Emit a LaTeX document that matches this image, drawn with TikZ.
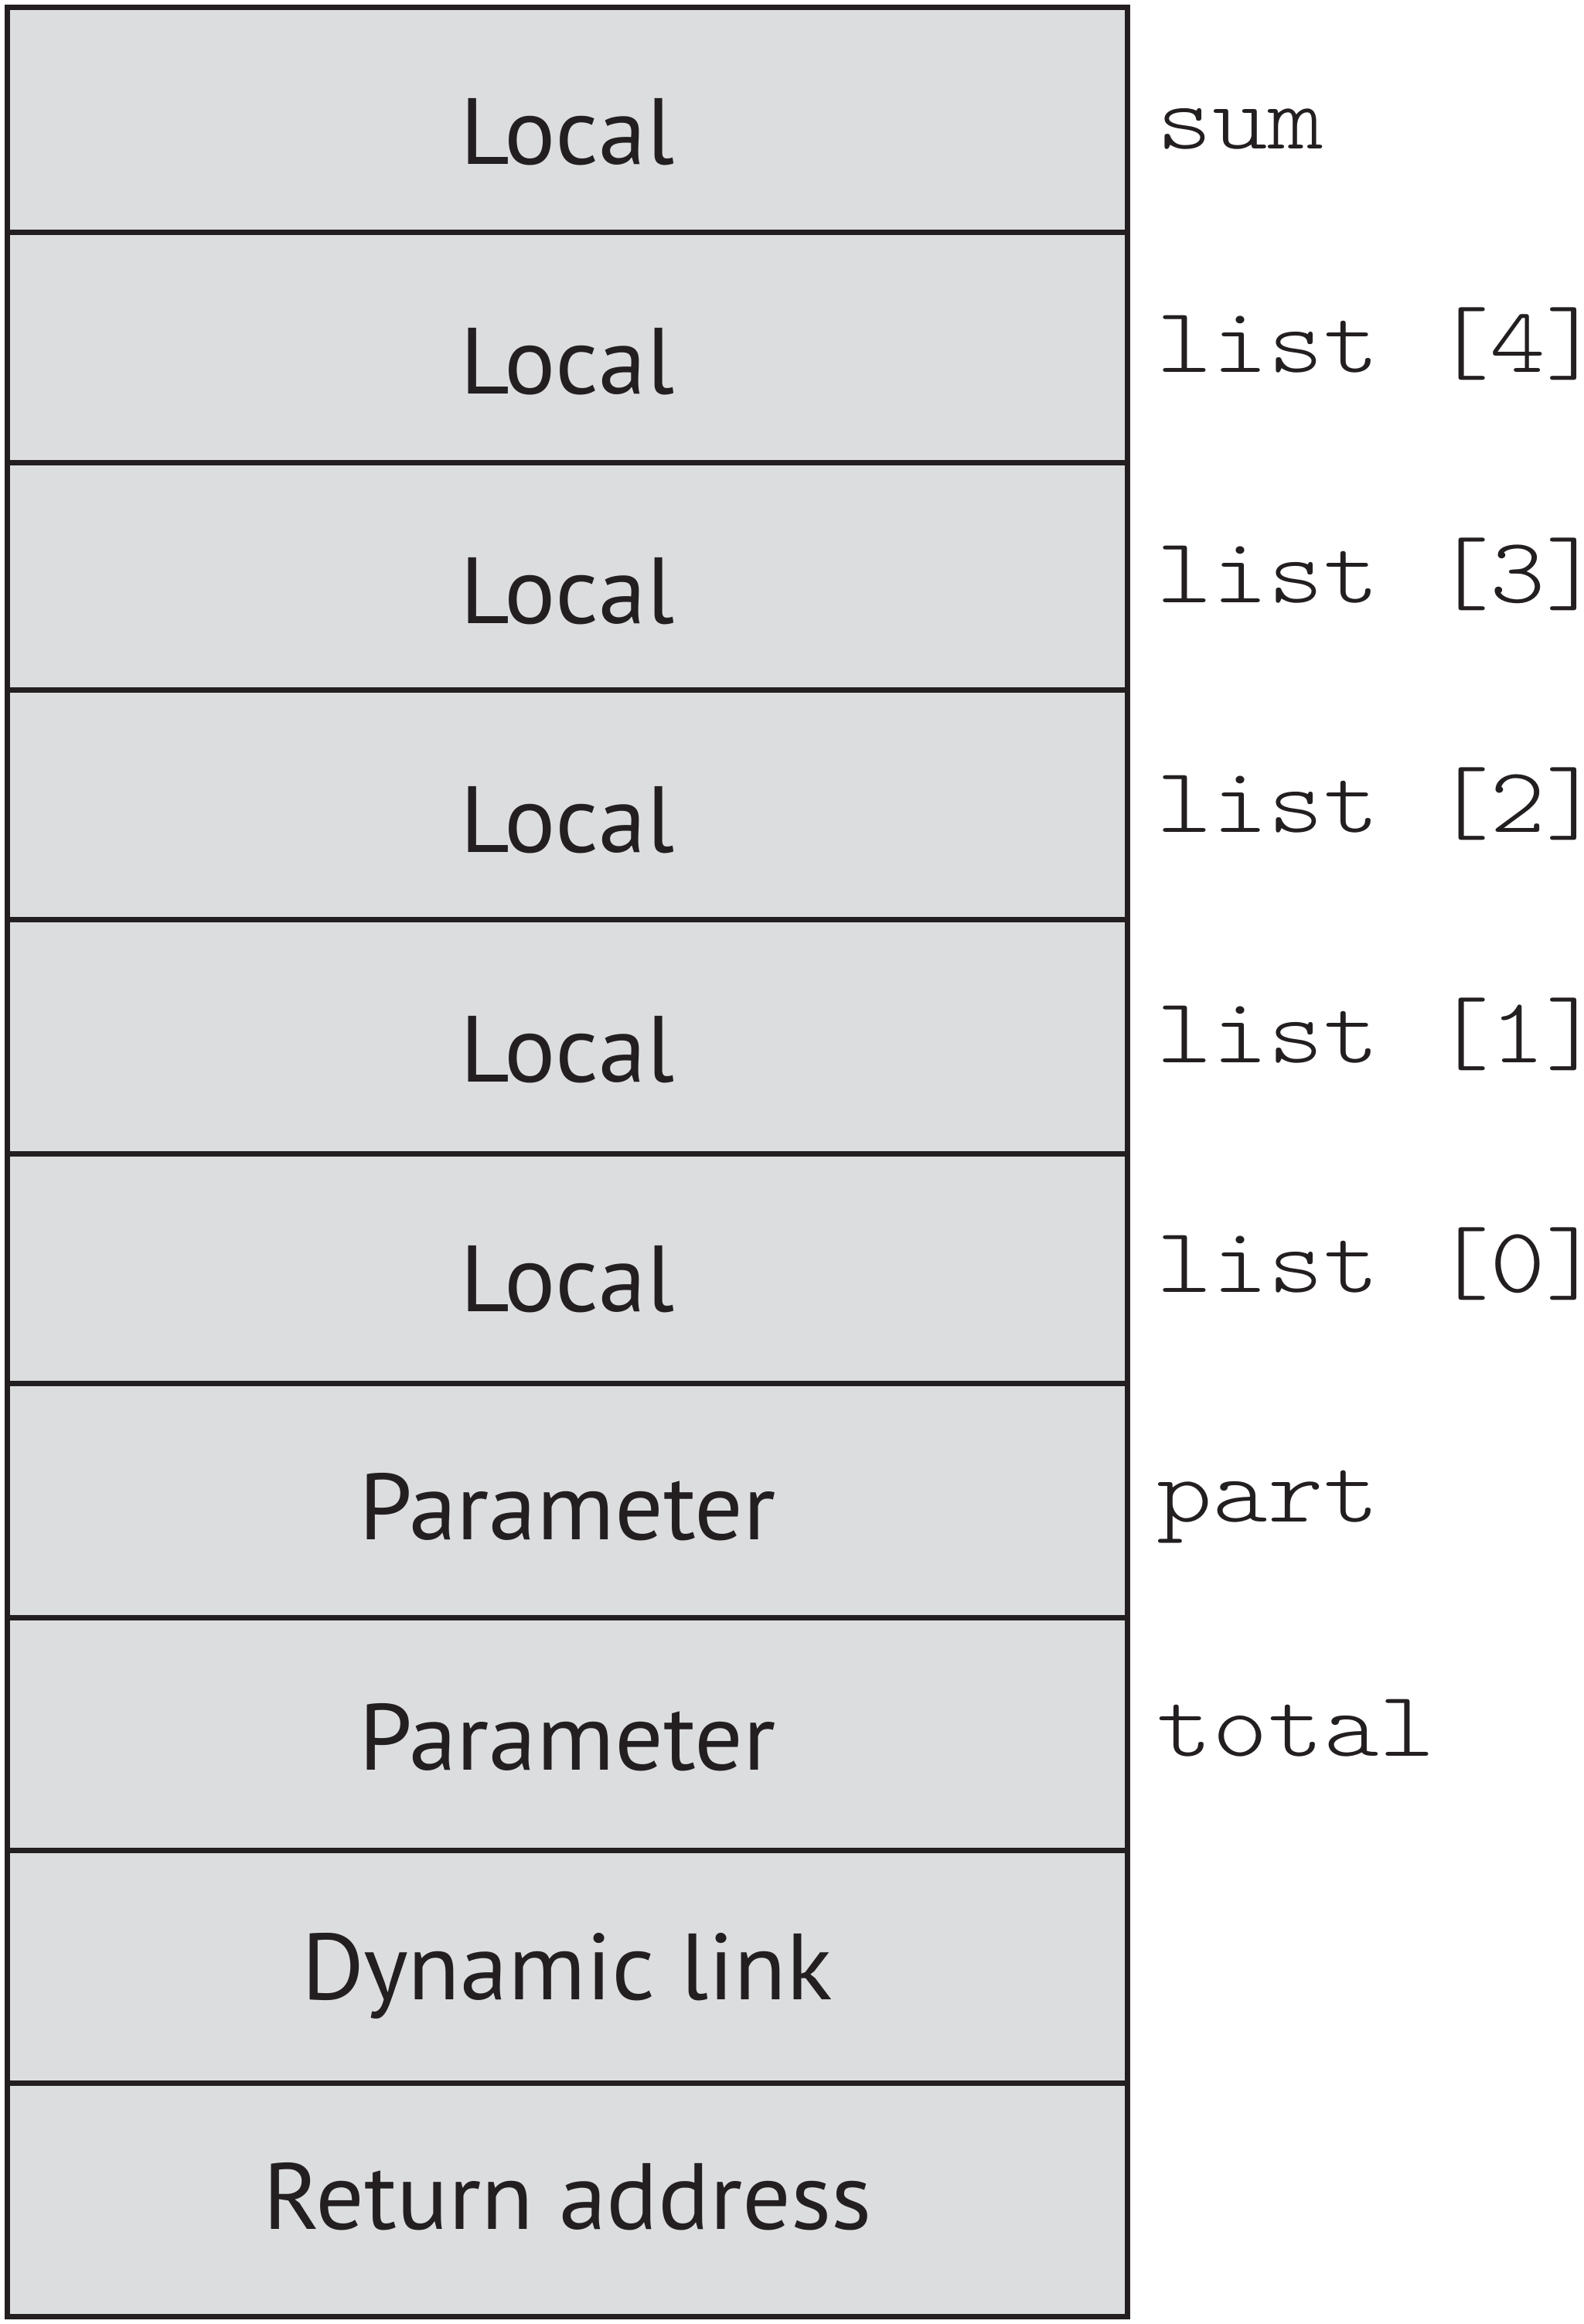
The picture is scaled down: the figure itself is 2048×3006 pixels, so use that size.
\documentclass[tikz,border=0pt]{standalone}
\usepackage{fontspec}
\setmainfont{PT Sans}[FakeStretch=1.02]
\newfontfamily\codefont{lmmonolt10-regular}[Extension=.otf, FakeStretch=1.14]
\definecolor{ink}{HTML}{231F20}
\definecolor{cellfill}{HTML}{DCDDDF}
\begin{document}
\begin{tikzpicture}[x=0.25pt,y=-0.25pt,
  cell/.style={draw=ink, fill=cellfill, line width=1.75pt,
    minimum width=362.4pt, inner sep=0pt},
  slot/.style={anchor=base, inner sep=0pt, text=ink,
    font=\fontsize{30.4pt}{36pt}\selectfont},
  varname/.style={anchor=base west, inner sep=0pt, text=ink,
    font=\codefont\fontsize{30pt}{36pt}\selectfont}]
\useasboundingbox (0,0) rectangle (2048,3006);

% stack frame cells, top to bottom (upper/lower edge of each)
\foreach \i/\a/\b in {1/9.3/301, 2/301/598, 3/598/892, 4/892/1189,
    5/1189/1492, 6/1492/1789, 7/1789/2092, 8/2092/2393,
    9/2393/2694, 10/2694/2996}
  \node[cell, minimum height={(\b-\a)*0.25pt}] (r\i) at (734, {(\a+\b)/2}) {};

% slot kinds
\node[slot] (k1)  at (734, 212.7)  {Local};
\node[slot] (k2)  at (734, 509.4)  {Local};
\node[slot] (k3)  at (734, 806.1)  {Local};
\node[slot] (k4)  at (734, 1102.8) {Local};
\node[slot] (k5)  at (734, 1399.5) {Local};
\node[slot] (k6)  at (734, 1696.2) {Local};
\node[slot] (k7)  at (734, 1991.7) {Parameter};
\node[slot] (k8)  at (734, 2289.0) {Parameter};
\node[slot] (k9)  at (734, 2586.7) {Dynamic link};
\node[slot] (k10) at (734, 2883.0) {Return address};

% variable names beside the cells
\node[varname] (v1) at (1496, 192.7)  {sum};
\node[varname] (v2) at (1496, 481.7)  {list [4]};
\node[varname] (v3) at (1496, 779.2)  {list [3]};
\node[varname] (v4) at (1496, 1076.7) {list [2]};
\node[varname] (v5) at (1496, 1374.2) {list [1]};
\node[varname] (v6) at (1496, 1671.7) {list [0]};
\node[varname] (v7) at (1496, 1968.0) {part};
\node[varname] (v8) at (1496, 2271.7) {total};
\end{tikzpicture}
\end{document}
